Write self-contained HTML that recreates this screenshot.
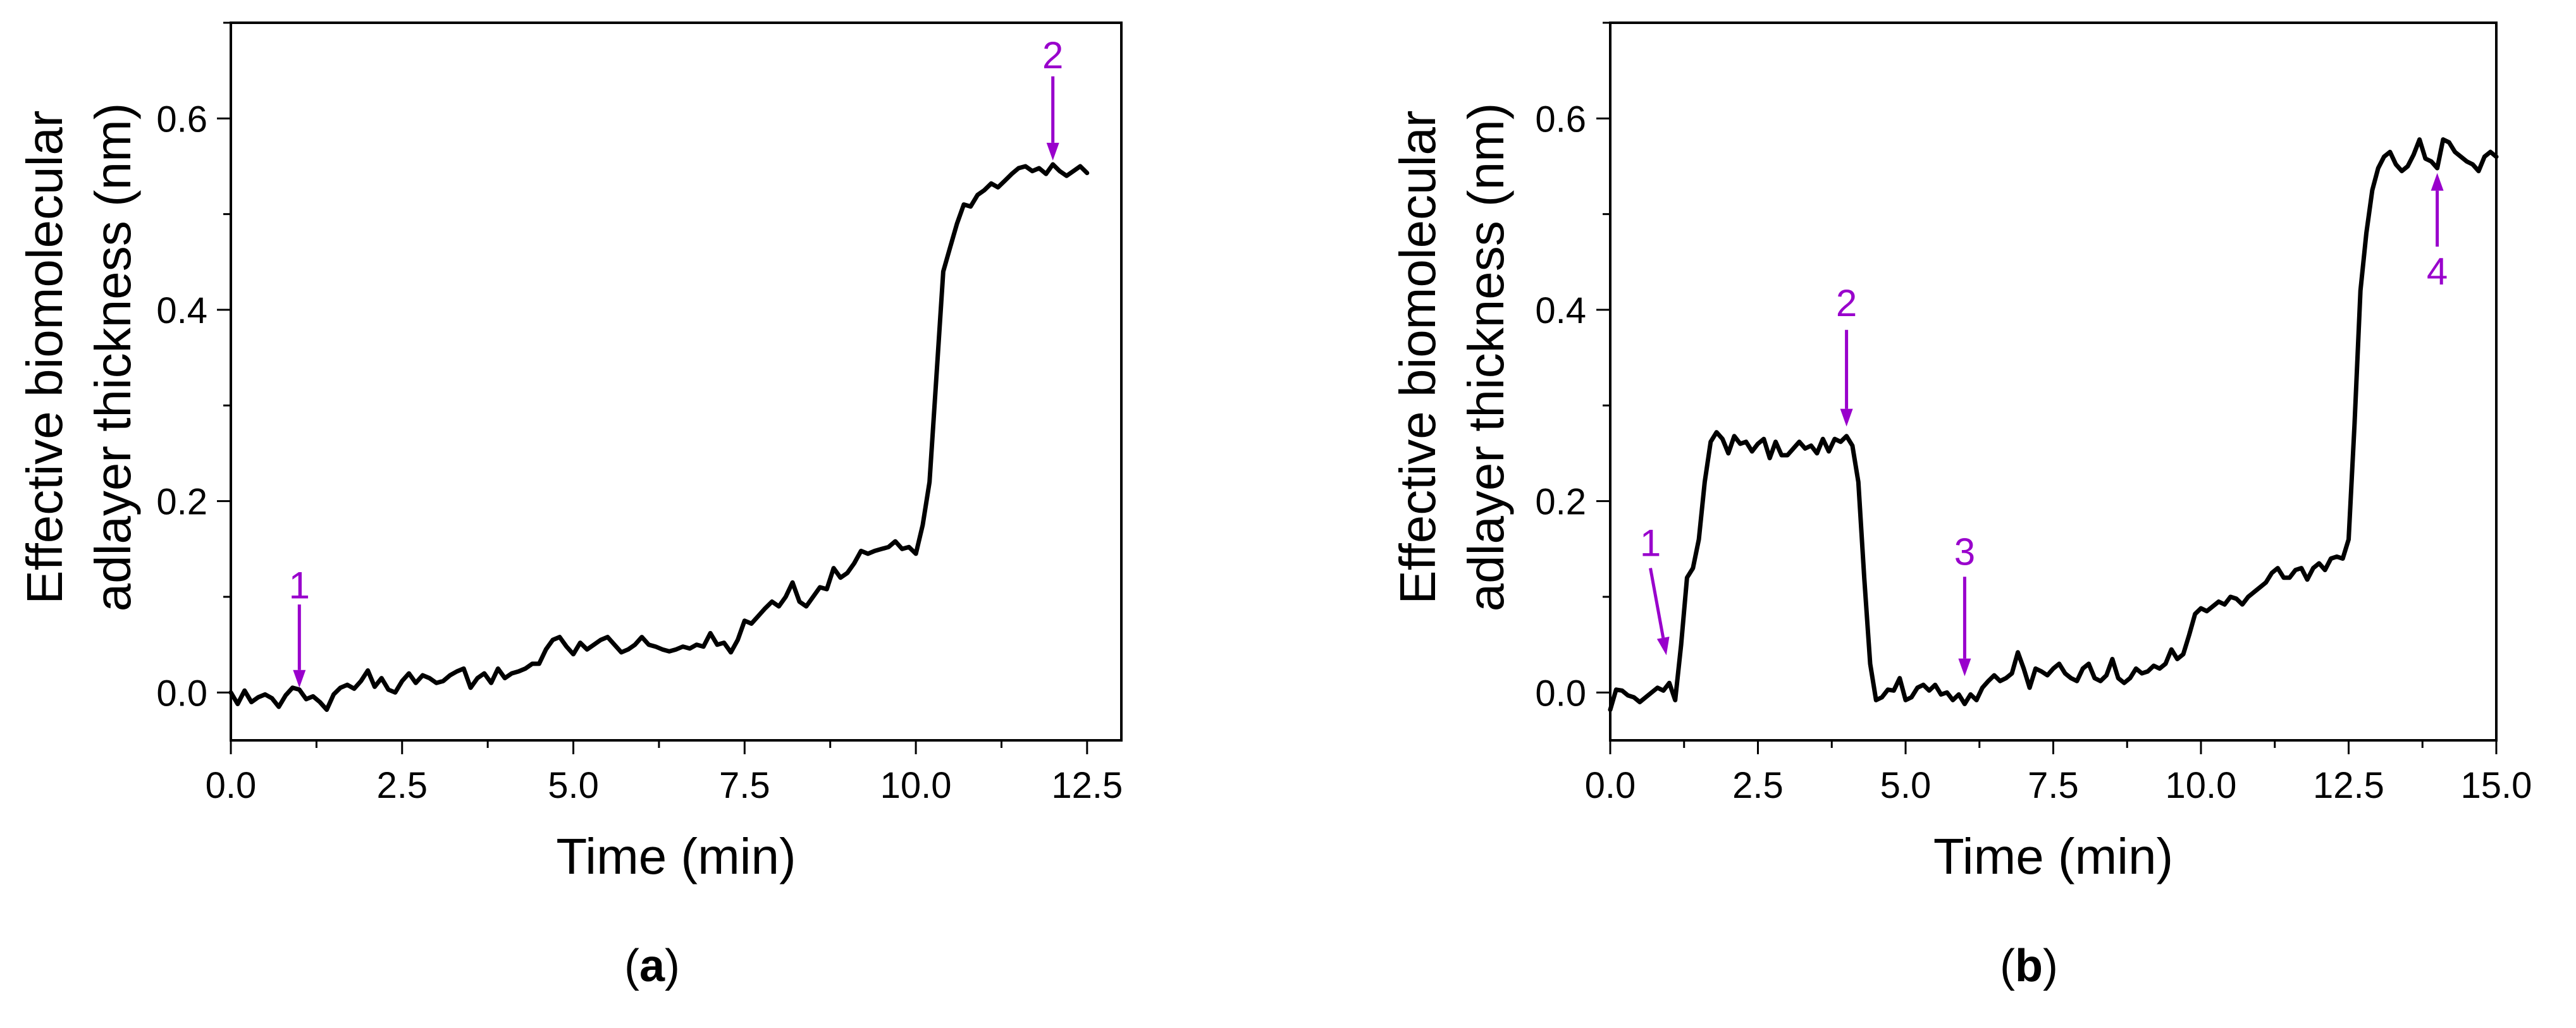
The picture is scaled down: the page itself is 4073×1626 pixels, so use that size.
<!DOCTYPE html>
<html><head><meta charset="utf-8">
<style>
html,body{margin:0;padding:0;background:#fff;}
svg{display:block;}
text{font-family:"Liberation Sans",Arial,sans-serif;}
</style></head>
<body>
<svg id="fig" width="4073" height="1626" viewBox="0 0 4073 1626" xmlns="http://www.w3.org/2000/svg"></svg>
<script>
const seriesA = [0.0,-0.012,0.002,-0.01,-0.005,-0.002,-0.006,-0.015,-0.003,0.005,0.003,-0.007,-0.004,-0.01,-0.018,-0.002,0.005,0.008,0.004,0.012,0.023,0.006,0.015,0.003,0.0,0.012,0.02,0.01,0.018,0.015,0.01,0.012,0.018,0.022,0.025,0.005,0.015,0.02,0.01,0.025,0.015,0.02,0.022,0.025,0.03,0.03,0.045,0.055,0.058,0.048,0.04,0.052,0.045,0.05,0.055,0.058,0.05,0.042,0.045,0.05,0.058,0.05,0.048,0.045,0.043,0.045,0.048,0.046,0.05,0.048,0.062,0.05,0.052,0.042,0.055,0.075,0.072,0.08,0.088,0.095,0.09,0.1,0.115,0.095,0.09,0.1,0.11,0.108,0.13,0.12,0.125,0.135,0.148,0.145,0.148,0.15,0.152,0.158,0.15,0.152,0.145,0.175,0.22,0.33,0.44,0.465,0.49,0.51,0.508,0.52,0.525,0.532,0.528,0.535,0.542,0.548,0.55,0.545,0.548,0.542,0.552,0.545,0.54,0.545,0.55,0.543];
const seriesB = [-0.018,0.003,0.002,-0.003,-0.005,-0.01,-0.005,0.0,0.005,0.002,0.01,-0.008,0.05,0.12,0.13,0.16,0.22,0.262,0.272,0.265,0.25,0.268,0.26,0.262,0.252,0.26,0.265,0.245,0.262,0.248,0.248,0.255,0.262,0.255,0.258,0.25,0.265,0.252,0.265,0.262,0.268,0.258,0.22,0.12,0.03,-0.008,-0.005,0.003,0.002,0.015,-0.008,-0.005,0.005,0.008,0.002,0.008,-0.002,0.0,-0.008,-0.002,-0.012,-0.002,-0.008,0.005,0.012,0.018,0.012,0.015,0.02,0.042,0.025,0.005,0.025,0.022,0.018,0.025,0.03,0.02,0.015,0.012,0.025,0.03,0.015,0.012,0.018,0.035,0.015,0.01,0.015,0.025,0.02,0.022,0.028,0.025,0.03,0.045,0.035,0.04,0.06,0.082,0.088,0.085,0.09,0.095,0.092,0.1,0.098,0.092,0.1,0.105,0.11,0.115,0.125,0.13,0.12,0.12,0.128,0.13,0.118,0.13,0.135,0.128,0.14,0.142,0.14,0.16,0.28,0.42,0.48,0.525,0.548,0.56,0.565,0.552,0.545,0.55,0.562,0.578,0.558,0.555,0.548,0.578,0.575,0.565,0.56,0.555,0.552,0.545,0.56,0.565,0.56];
const timeStep = 0.1;
const xTicksA = ["0.0","2.5","5.0","7.5","10.0","12.5"];
const xTicksB = ["0.0","2.5","5.0","7.5","10.0","12.5","15.0"];
const yTicks = ["0.0","0.2","0.4","0.6"];
const arrowsA = [["1",1.0,0.092,1.0,0.005,1.0,0.113],["2",12.0,0.644,12.0,0.556,12.0,0.667]];
const arrowsB = [["1",0.68,0.13,0.95,0.039,0.68,0.157],["2",4.0,0.379,4.0,0.278,4.0,0.408],["3",6.0,0.121,6.0,0.017,6.0,0.148],["4",14.0,0.466,14.0,0.543,14.0,0.441]];

const NS="http://www.w3.org/2000/svg";
const svg=document.getElementById('fig');
function mk(tag,attrs,parent){const e=document.createElementNS(NS,tag);for(const k in attrs)e.setAttribute(k,attrs[k]);(parent||svg).appendChild(e);return e;}

function panel(id,L,R,xmax,series,xt,arrows,titleX1,titleX2,tickRight,label,labelX){
  const T=36,B=1171,ymin=-0.05,ymax=0.7;
  const g=mk('g',{});
  
  
  const sx=v=>L+(v/xmax)*(R-L);
  const sy=v=>B-(v-ymin)/(ymax-ymin)*(B-T);
  for(let i=0;i<=xmax/1.25+0.001;i++){
    const v=i*1.25, maj=(i%2===0);
    const t=mk('line',{x1:sx(v),x2:sx(v),y1:B,y2:B+(maj?22:12),stroke:'#000','stroke-width':3},g);
    
    
  }
  xt.forEach((s,i)=>{
    const t=mk('text',{x:sx(i*2.5),y:1262,'font-size':58,'text-anchor':'middle'},g);
    t.textContent=s;
    
    
  });
  for(let i=0;i<=7;i++){
    const v=i*0.1, maj=(i%2===0);
    const t=mk('line',{x1:L,x2:L-(maj?22:12),y1:sy(v),y2:sy(v),stroke:'#000','stroke-width':3},g);
    
    
  }
  yTicks.forEach((s,i)=>{
    const t=mk('text',{x:tickRight,y:sy(i*0.2)+21,'font-size':58,'text-anchor':'end'},g);
    t.textContent=s;
    
    
  });
  const pts=series.map((v,i)=>sx(i*timeStep).toFixed(1)+','+sy(v).toFixed(1)).join(' ');
  const pl=mk('polyline',{points:pts,fill:'none',stroke:'#000','stroke-width':7,'stroke-linejoin':'round','stroke-linecap':'round'},g);
  
  
  arrows.forEach(a=>{
    const x1=sx(a[1]),y1=sy(a[2]),x2=sx(a[3]),y2=sy(a[4]);
    const dx=x2-x1,dy=y2-y1,len=Math.hypot(dx,dy),ux=dx/len,uy=dy/len;
    const hl=28,hw=10;
    const bx=x2-ux*hl,by=y2-uy*hl;
    const ln=mk('line',{x1:x1,y1:y1,x2:bx,y2:by,stroke:'#9900cc','stroke-width':5},g);
    
    
    const hd=mk('polygon',{points:`${x2},${y2} ${bx-uy*hw},${by+ux*hw} ${bx+uy*hw},${by-ux*hw}`,fill:'#9900cc'},g);
    
    
    const tx=mk('text',{x:sx(a[5]),y:sy(a[6])+22,'font-size':60,'text-anchor':'middle',fill:'#9900cc'},g);
    tx.textContent=a[0];
    
    
  });
  const fr=mk('rect',{x:L,y:T,width:R-L,height:B-T,fill:'none',stroke:'#000','stroke-width':4},g);
  
  
  const xtT=mk('text',{x:(L+R)/2,y:1382,'font-size':80,'text-anchor':'middle'},g);
  xtT.textContent='Time (min)';
  
  
  const cy=565;
  [[titleX1,'Effective biomolecular'],[titleX2,'adlayer thickness (nm)']].forEach(p=>{
    const t=mk('text',{x:p[0],y:cy,'font-size':80,'text-anchor':'middle',transform:`rotate(-90 ${p[0]} ${cy})`,dy:28},g);
    t.textContent=p[1];
    
    
  });
  const pl2=mk('text',{x:labelX,y:1552,'font-size':72,'text-anchor':'middle','font-family':'Liberation Serif, serif'},g);
  pl2.innerHTML='(<tspan font-weight="bold">'+label+'</tspan>)';
  
  
}
panel('a',365,1773,13,seriesA,xTicksA,arrowsA,70,178,328,'a',1031);
panel('b',2546,3947,15,seriesB,xTicksB,arrowsB,2241,2349,2508,'b',3208);
</script>
</body></html>
